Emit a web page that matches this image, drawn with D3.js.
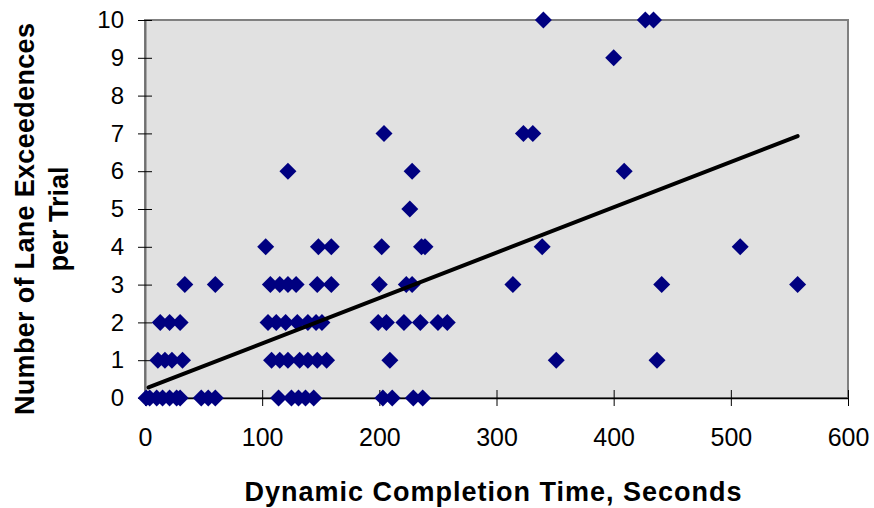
<!DOCTYPE html>
<html>
<head>
<meta charset="utf-8">
<script src="https://cdn.jsdelivr.net/npm/d3@7"></script>
<style>
  body { margin: 0; background: #fff; }
  svg { display: block; font-family: "Liberation Sans", Arial, sans-serif; }
</style>
</head>
<body>
<svg id="chart" width="874" height="508"></svg>
<script>
// completion time (s) of each trial, grouped by its lane exceedence count
const secondsAt0 = [1, 4, 10, 15, 21, 27, 30, 48, 54, 60, 114, 125, 131, 137, 144, 203, 211, 229, 237];
const secondsAt1 = [11, 17, 23, 32, 108, 115, 122, 132, 139, 147, 155, 209, 351, 437];
const secondsAt2 = [13, 21, 30, 105, 112, 120, 130, 139, 146, 151, 199, 206, 221, 235, 250, 258];
const secondsAt3 = [34, 60, 107, 115, 122, 129, 147, 159, 200, 223, 228, 314, 441, 557];
const secondsAt4 = [103, 148, 159, 202, 236, 239, 339, 508];
const secondsAt5 = [226];
const secondsAt6 = [122, 228, 409];
const secondsAt7 = [204, 323, 331];
const secondsAt9 = [400];
const secondsAt10 = [340, 427, 434];

const groups = [
  [0, secondsAt0], [1, secondsAt1], [2, secondsAt2], [3, secondsAt3],
  [4, secondsAt4], [5, secondsAt5], [6, secondsAt6], [7, secondsAt7],
  [9, secondsAt9], [10, secondsAt10]
];

// linear trend line end points
const trendSeconds = [3, 557];
const trendCount = [0.28, 6.93];

const xTicks = [0, 100, 200, 300, 400, 500, 600];
const yTicks = [0, 1, 2, 3, 4, 5, 6, 7, 8, 9, 10];

const svg = d3.select('#chart');
const plotLeft = 145, plotRight = 848, plotTop = 20, plotBottom = 398;

const x = d3.scaleLinear().domain([0, 600]).range([plotLeft, plotRight]);
const y = d3.scaleLinear().domain([0, 10]).range([plotBottom, plotTop]);

svg.append('rect')
  .attr('x', plotLeft).attr('y', plotTop)
  .attr('width', plotRight - plotLeft).attr('height', plotBottom - plotTop)
  .attr('fill', '#e1e1e1')
  .attr('stroke', '#808080')
  .attr('stroke-width', 2);

const xAxis = svg.append('g')
  .attr('transform', `translate(0,${plotBottom})`)
  .call(d3.axisBottom(x).tickValues(xTicks).tickSizeInner(8).tickSizeOuter(0).tickPadding(22));
xAxis.select('.domain').attr('stroke', '#000').attr('stroke-width', 1.5);
xAxis.selectAll('.tick line').attr('y1', -8).attr('stroke', '#000');
xAxis.selectAll('.tick text')
  .attr('font-size', '25px').attr('fill', '#000');

const yAxis = svg.append('g')
  .attr('transform', `translate(${plotLeft},0)`)
  .call(d3.axisLeft(y).tickValues(yTicks).tickSizeInner(7).tickSizeOuter(0).tickPadding(14));
yAxis.select('.domain').attr('stroke', '#707070').attr('stroke-width', 2);
yAxis.selectAll('.tick line').attr('x1', 7).attr('x2', -7).attr('stroke', '#000');
yAxis.selectAll('.tick text')
  .attr('font-size', '24px').attr('fill', '#000');

const points = groups.flatMap(([count, secs]) => secs.map((s) => ({ s, count })));

const diamond = d3.symbol().type(d3.symbolSquare).size(144);
svg.append('g')
  .selectAll('path')
  .data(points)
  .enter()
  .append('path')
  .attr('d', diamond)
  .attr('transform', (d) => `translate(${x(d.s)},${y(d.count)}) rotate(45)`)
  .attr('fill', '#000080');

svg.append('line')
  .attr('x1', x(trendSeconds[0])).attr('y1', y(trendCount[0]))
  .attr('x2', x(trendSeconds[1])).attr('y2', y(trendCount[1]))
  .attr('stroke', '#000')
  .attr('stroke-width', 4)
  .attr('stroke-linecap', 'round');

svg.append('text')
  .attr('x', 493).attr('y', 501)
  .attr('text-anchor', 'middle')
  .attr('font-size', '27px')
  .attr('font-weight', 'bold')
  .attr('textLength', 497)
  .attr('lengthAdjust', 'spacing')
  .text('Dynamic Completion Time, Seconds');

const yTitle = svg.append('text')
  .attr('transform', 'translate(0,219) rotate(-90)')
  .attr('text-anchor', 'middle')
  .attr('font-size', '27px')
  .attr('font-weight', 'bold');
yTitle.append('tspan').attr('x', 0).attr('y', 34)
  .attr('textLength', 392).attr('lengthAdjust', 'spacing')
  .text('Number of Lane Exceedences');
yTitle.append('tspan').attr('x', 0).attr('y', 68).text('per Trial');
</script>
</body>
</html>
